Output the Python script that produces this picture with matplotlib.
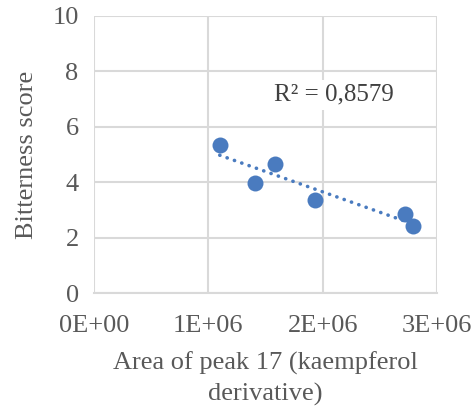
import numpy as np
import matplotlib
matplotlib.use("Agg")
import matplotlib.pyplot as plt

peak_area = [1.10e6, 1.41e6, 1.58e6, 1.93e6, 2.72e6, 2.79e6]
bitterness = [5.34, 3.96, 4.66, 3.36, 2.85, 2.43]
x_ticks = [0, 1e6, 2e6, 3e6]
x_tick_labels = ["0E+00", "1E+06", "2E+06", "3E+06"]
y_ticks = [0, 2, 4, 6, 8, 10]
r2_label = "R² = 0,8579"

plt.rcParams['font.family'] = ['Liberation Serif', 'DejaVu Serif']
fig = plt.figure(figsize=(4.77, 4.12), dpi=100)
ax = fig.add_axes([94/477, 1-293/412, (437-94)/477, (293-16)/412])

ax.set_xlim(0, 3e6)
ax.set_ylim(0, 10)
ax.set_xticks(x_ticks)
ax.set_xticklabels(x_tick_labels)
ax.set_yticks(y_ticks)
ax.grid(True, color="#d9d9d9", linewidth=1.5, zorder=0)
for s in ["top", "right", "left"]:
    ax.spines[s].set_visible(False)
ax.spines["bottom"].set_color("#d9d9d9")
ax.spines["bottom"].set_linewidth(1.5)
ax.tick_params(length=0, labelsize=19, colors="#595959")
ax.tick_params(axis="x", pad=16)
ax.tick_params(axis="y", pad=11)

xs = np.array(peak_area)
coef = np.polyfit(xs, np.array(bitterness), 1)
xl = np.array([xs.min(), xs.max()])
ax.plot(xl, np.polyval(coef, xl), linestyle=(0, (0.05, 2.1)), color="#4a7bbf",
        linewidth=2.6, dash_capstyle="round", zorder=3)
ax.scatter(peak_area, bitterness, s=11.5**2, color="#4a7bbf", zorder=4, linewidths=0)

ax.text(2.10e6, 7.15, r2_label, fontsize=18, color="#404040", ha="center", va="center",
        bbox=dict(facecolor="white", edgecolor="none", pad=3), zorder=5)

ax.set_ylabel("Bitterness score", fontsize=19, color="#595959", labelpad=10)
ax.set_xlabel("Area of peak 17 (kaempferol\nderivative)", fontsize=19, color="#595959",
              labelpad=10, linespacing=1.5)

fig.savefig("out.png", dpi=100)
